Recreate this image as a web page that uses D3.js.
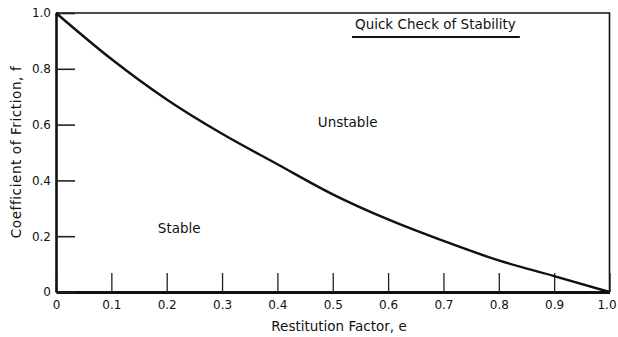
<!DOCTYPE html>
<html>
<head>
<meta charset="utf-8">
<script src="https://cdn.jsdelivr.net/npm/d3@7"></script>
<style>
  html, body { margin: 0; padding: 0; background: #fff; }
  svg { display: block; }
  text { font-family: "DejaVu Sans", "Liberation Sans", Arial, sans-serif; fill: #111; }
</style>
</head>
<body>
<svg id="chart" width="618" height="337"></svg>
<script>
// Data
const restitution = [0, 0.1, 0.2, 0.3, 0.4, 0.5, 0.6, 0.7, 0.8, 0.9, 1.0];
const friction    = [1.0, 0.835, 0.69, 0.567, 0.458, 0.35, 0.26, 0.183, 0.113, 0.057, 0];
const xTicks = [0, 0.1, 0.2, 0.3, 0.4, 0.5, 0.6, 0.7, 0.8, 0.9, 1.0];
const xTickLabels = ["0", "0.1", "0.2", "0.3", "0.4", "0.5", "0.6", "0.7", "0.8", "0.9", "1.0"];
const yTicks = [0, 0.2, 0.4, 0.6, 0.8, 1.0];
const yTickLabels = ["0", "0.2", "0.4", "0.6", "0.8", "1.0"];
const titleText = "Quick Check of Stability";
const regionLabels = ["Unstable", "Stable"];
const regionPos = [[0.473, 0.61], [0.184, 0.229]];
const xLabel = "Restitution Factor, e";
const yLabel = "Coefficient of Friction, f";

const FONT = "'DejaVu Sans', 'Liberation Sans', Arial, sans-serif";
const svg = d3.select("#chart");
const margin = { left: 56, right: 8.5, top: 13, bottom: 45 };
const W = 618, H = 337;
const x = d3.scaleLinear().domain([0, 1]).range([margin.left, W - margin.right]);
const y = d3.scaleLinear().domain([0, 1]).range([H - margin.bottom, margin.top]);

// frame: top and right (thinner)
svg.append("path")
  .attr("d", `M${x(0)},${y(1)} H${x(1)} V${y(0)}`)
  .attr("fill", "none").attr("stroke", "#111").attr("stroke-width", 1.6);

// x axis
const xAxis = d3.axisBottom(x)
  .tickValues(xTicks)
  .tickFormat((d, i) => xTickLabels[i])
  .tickSizeInner(-19).tickSizeOuter(0).tickPadding(8);
const gx = svg.append("g").attr("transform", `translate(0,${y(0)})`).call(xAxis);
gx.select(".domain").attr("stroke", "#111").attr("stroke-width", 3);
gx.selectAll(".tick line").attr("stroke", "#222").attr("stroke-width", 1.3);
gx.selectAll(".tick text").style("font-size", "12px").attr("fill", "#111")
  .style("font-family", FONT)
  .attr("dx", d => d === 1 ? -3 : 0);

// y axis
const yAxis = d3.axisLeft(y)
  .tickValues(yTicks)
  .tickFormat((d, i) => yTickLabels[i])
  .tickSizeInner(-19).tickSizeOuter(0).tickPadding(5);
const gy = svg.append("g").attr("transform", `translate(${x(0)},0)`).call(yAxis);
gy.select(".domain").attr("stroke", "#111").attr("stroke-width", 2.6);
gy.selectAll(".tick line").attr("stroke", "#222").attr("stroke-width", 1.6);
gy.selectAll(".tick text").style("font-size", "12px").attr("fill", "#111")
  .style("font-family", FONT);

// curve
const line = d3.line()
  .x((d, i) => x(restitution[i]))
  .y(d => y(d))
  .curve(d3.curveMonotoneX);
svg.append("path")
  .datum(friction)
  .attr("d", line)
  .attr("fill", "none").attr("stroke", "#111").attr("stroke-width", 2.4);

// title with underline
const title = svg.append("text")
  .attr("x", 355).attr("y", 29)
  .style("font-size", "13.5px")
  .text(titleText);
const tb = title.node().getBBox();
svg.append("line")
  .attr("x1", tb.x - 3).attr("x2", tb.x + tb.width + 4)
  .attr("y1", 37).attr("y2", 37)
  .attr("stroke", "#111").attr("stroke-width", 1.8);

// region labels
regionLabels.forEach((t, i) => {
  svg.append("text")
    .attr("x", x(regionPos[i][0])).attr("y", y(regionPos[i][1]))
    .attr("text-anchor", "start")
    .attr("dy", "0.35em")
    .style("font-size", "13.5px")
    .text(t);
});

// axis labels
svg.append("text")
  .attr("x", 339).attr("y", 331)
  .attr("text-anchor", "middle")
  .style("font-size", "13.5px")
  .text(xLabel);
svg.append("text")
  .attr("transform", `translate(21,152) rotate(-90)`)
  .attr("text-anchor", "middle")
  .style("font-size", "13.5px")
  .style("letter-spacing", "0.6px")
  .text(yLabel);
</script>
</body>
</html>
